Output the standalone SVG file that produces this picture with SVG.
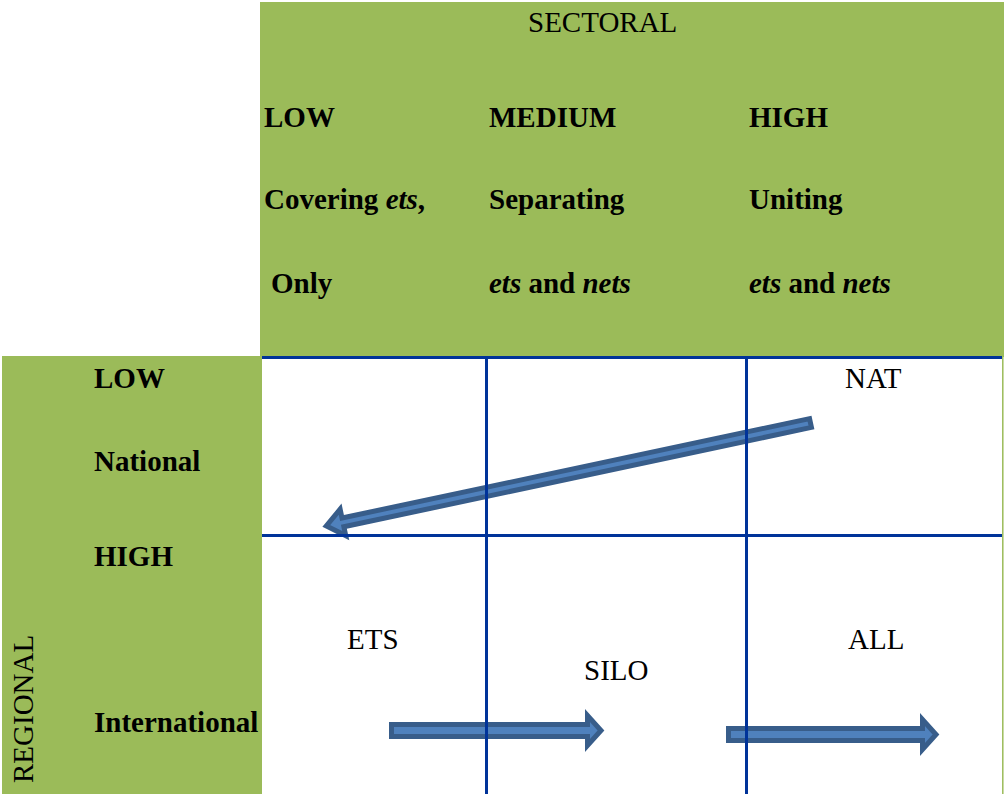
<svg xmlns="http://www.w3.org/2000/svg" width="1004" height="794" viewBox="0 0 1004 794">
<style>
.g{fill:#9BBB59}
.t{font-family:"Liberation Serif","Times New Roman",serif;font-size:29px;fill:#000}
.b{font-weight:bold}
.grid{stroke:#003399;stroke-width:3;fill:none}
.arr{fill:#4F81BD;stroke:#385D8A;stroke-width:5;stroke-linejoin:miter}
</style>
<rect width="1004" height="794" fill="#fff"/>
<g id="sectoral-header">
<rect class="g" x="260" y="2" width="744" height="355"/>
<text class="t" x="528" y="32">SECTORAL</text>
<text class="t b" x="264" y="127">LOW</text>
<text class="t b" x="489" y="127">MEDIUM</text>
<text class="t b" x="749" y="127">HIGH</text>
<text class="t b" x="264" y="209">Covering <tspan font-style="italic">ets</tspan>,</text>
<text class="t b" x="489" y="209">Separating</text>
<text class="t b" x="749" y="209">Uniting</text>
<text class="t b" x="271" y="293">Only</text>
<text class="t b" x="489" y="293"><tspan font-style="italic">ets</tspan> and <tspan font-style="italic">nets</tspan></text>
<text class="t b" x="749" y="293"><tspan font-style="italic">ets</tspan> and <tspan font-style="italic">nets</tspan></text>
</g>
<g id="regional-header">
<rect class="g" x="2" y="356" width="260" height="438"/>
<text class="t b" x="94" y="388">LOW</text>
<text class="t b" x="94" y="471">National</text>
<text class="t b" x="94" y="566">HIGH</text>
<text class="t b" x="94" y="732">International</text>
<text class="t" transform="translate(33,783) rotate(-90)">REGIONAL</text>
</g>
<g id="connectors">
<polygon class="arr" transform="translate(810.5,423) rotate(168)" points="0,-4.5 478,-4.5 478,-13.5 495,0 478,13.5 478,4.5 0,4.5"/>
<polygon class="arr" points="391.5,724.5 587.5,724.5 587.5,715.5 601,730.5 587.5,745.5 587.5,736.5 391.5,736.5"/>
<polygon class="arr" points="728.5,728.5 922.5,728.5 922.5,719.5 936,734.5 922.5,749.5 922.5,740.5 728.5,740.5"/>
</g>
<g id="grid">
<line class="grid" x1="262" y1="357.5" x2="1002" y2="357.5"/>
<line class="grid" x1="262" y1="535.5" x2="1002" y2="535.5"/>
<line class="grid" x1="486.5" y1="356" x2="486.5" y2="794"/>
<line class="grid" x1="746.5" y1="356" x2="746.5" y2="794"/>
<line x1="1002.8" y1="356" x2="1002.8" y2="794" stroke="#9BBB59" stroke-width="1.5"/>
</g>
<g id="cell-labels">
<text class="t" x="845" y="388">NAT</text>
<text class="t" x="347" y="649">ETS</text>
<text class="t" x="584" y="680">SILO</text>
<text class="t" x="848" y="649">ALL</text>
</g>
</svg>
